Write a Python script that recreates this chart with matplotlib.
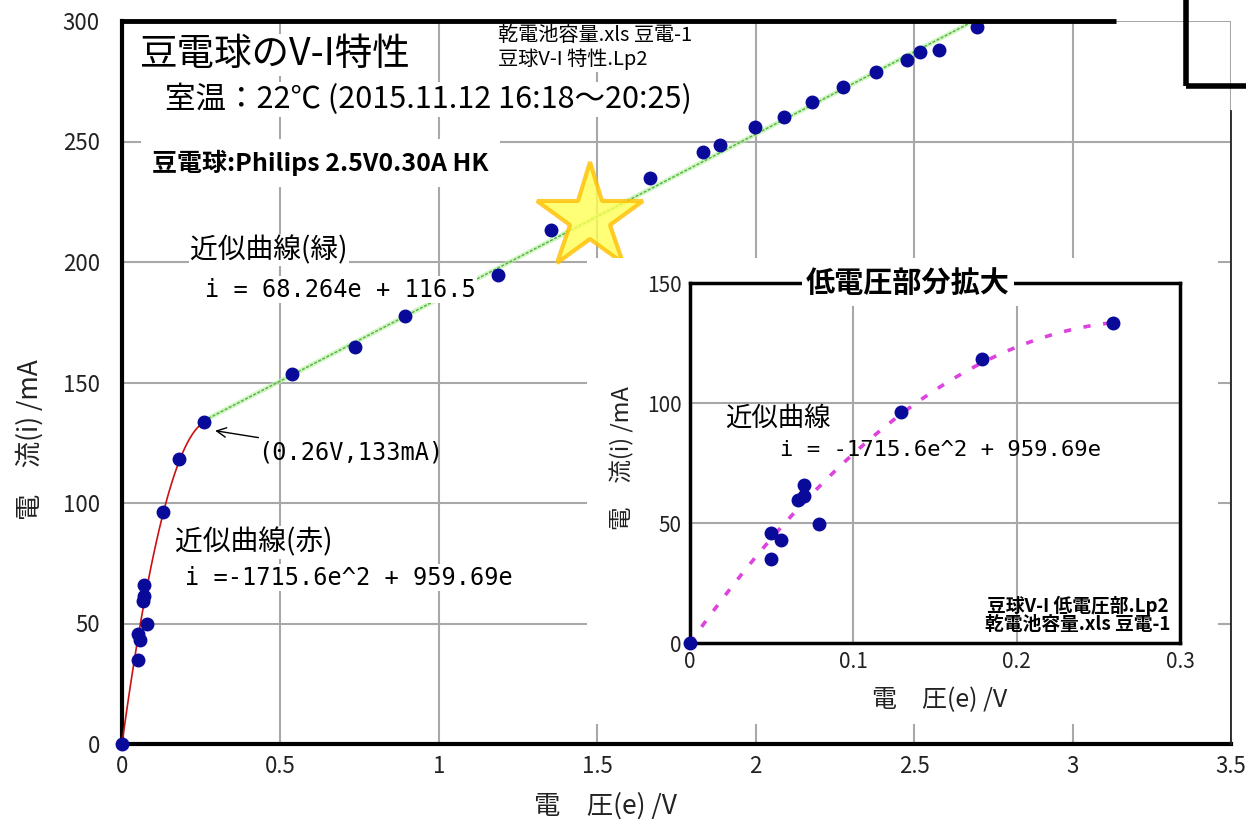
import numpy as np
import matplotlib
matplotlib.use("Agg")
import matplotlib.pyplot as plt
from matplotlib.patches import Rectangle

plt.rcParams['font.family'] = ['Noto Sans CJK JP', 'DejaVu Sans']
MONO = ['DejaVu Sans Mono', 'Noto Sans CJK JP']

# ---------------- data ----------------
voltage = [0.0, 0.0495, 0.0495, 0.0556, 0.0664, 0.0696, 0.0696, 0.079, 0.129, 0.179, 0.259,
           0.536, 0.736, 0.894, 1.188, 1.355, 1.667, 1.835, 1.886, 1.999, 2.088, 2.178,
           2.276, 2.381, 2.478, 2.518, 2.578, 2.697]
current = [0.0, 34.8, 45.8, 43.0, 59.4, 61.3, 65.8, 49.7, 96.2, 118.3, 133.5,
           153.5, 164.6, 177.5, 194.4, 213.4, 234.8, 245.8, 248.6, 256.2, 260.1, 266.3,
           272.5, 279.0, 284.0, 287.1, 288.0, 297.7]
n_low = 11  # points shown in the low-voltage inset

quad_a, quad_b = -1715.6, 959.69      # red fit  i = a e^2 + b e
lin_a, lin_b = 68.264, 116.5          # green fit i = a e + b
e_break = 0.26
e_line_end = 2.69

main_xticks = [0, 0.5, 1, 1.5, 2, 2.5, 3, 3.5]
main_xlabels = ['0', '0.5', '1', '1.5', '2', '2.5', '3', '3.5']
main_yticks = [0, 50, 100, 150, 200, 250, 300]
inset_xticks = [0, 0.1, 0.2, 0.3]
inset_xlabels = ['0', '0.1', '0.2', '0.3']
inset_yticks = [0, 50, 100, 150]
star_pos = (1.478, 218.4)

W, H = 1246, 825
fig = plt.figure(figsize=(W / 100, H / 100), dpi=100)
fig.patch.set_facecolor('white')

GRID = '#a8a8a8'
DOT = '#0a0a9a'

# ---------------- main axes ----------------
ax = fig.add_axes([122 / W, 1 - 744 / H, (1231 - 122) / W, (744 - 21) / H])
ax.set_xlim(0, 3.5)
ax.set_ylim(0, 300)
ax.set_xticks(main_xticks)
ax.set_xticklabels(main_xlabels)
ax.set_yticks(main_yticks)
ax.tick_params(axis='y', length=0, labelsize=16, labelcolor='#222222', pad=16)
ax.tick_params(axis='x', length=0, labelsize=16, labelcolor='#222222', pad=8)
ax.grid(True, color=GRID, lw=1.5)
ax.set_axisbelow(True)
for s in ['top', 'right']:
    ax.spines[s].set_visible(False)
ax.spines['left'].set_linewidth(3)
ax.spines['bottom'].set_linewidth(3)
ax.plot([0, 0.896], [1, 1], transform=ax.transAxes, color='black', lw=3.5,
        clip_on=False, solid_capstyle='butt', zorder=5)
ax.plot([1, 1], [0, 0.875], transform=ax.transAxes, color='#222222', lw=1.3,
        clip_on=False, zorder=5)

e1 = np.linspace(0, e_break, 100)
ax.plot(e1, quad_a * e1 ** 2 + quad_b * e1, color='#cc1111', lw=1.2, zorder=3)
e2 = np.linspace(e_break, e_line_end, 100)
ax.plot(e2, lin_a * e2 + lin_b, color='#b8f0a0', lw=3.5, alpha=0.6, zorder=3)
ax.plot(e2, lin_a * e2 + lin_b, color='#55b844', lw=1.1, ls=(0, (2, 1)), zorder=3)
ax.plot(voltage, current, 'o', color=DOT, ms=9, zorder=4, clip_on=False)

ax.plot([star_pos[0]], [star_pos[1]], marker='*', ms=80, mfc='#ffff55', mec='#ffbf00',
        mew=3, alpha=0.8, zorder=6)

wb = dict(facecolor='white', edgecolor='none', pad=1)
ax.text(0.057, 286, '豆電球のV-I特性', fontsize=27, va='center', ha='left', bbox=wb)
ax.text(1.187, 294, '乾電池容量.xls 豆電-1', fontsize=14.5, va='center', ha='left', bbox=wb)
ax.text(1.187, 284, '豆球V-I 特性.Lp2', fontsize=14.5, va='center', ha='left', bbox=wb)
ax.text(0.136, 267.5, '室温：22℃ (2015.11.12 16:18～20:25)', fontsize=22,
        va='center', ha='left', bbox=wb)
ax.text(0.095, 241, '豆電球:Philips 2.5V0.30A HK', fontsize=18, fontweight='bold',
        va='center', ha='left', bbox=dict(facecolor='white', edgecolor='none', pad=8))
ax.text(0.215, 205, '近似曲線(緑)', fontsize=20, va='center', ha='left', bbox=wb)
ax.text(0.262, 188.5, 'i = 68.264e + 116.5', family=MONO, fontsize=17,
        va='center', ha='left', bbox=wb)
ax.text(0.167, 83.5, '近似曲線(赤)', fontsize=20, va='center', ha='left', bbox=wb)
ax.text(0.199, 69, 'i =-1715.6e^2 + 959.69e', family=MONO, fontsize=17,
        va='center', ha='left', bbox=wb)
ax.annotate('(0.26V,133mA)', xy=(0.294, 130), xytext=(0.43, 121), family=MONO,
            fontsize=17, va='center', ha='left',
            arrowprops=dict(arrowstyle='->', color='black', lw=1.0, shrinkA=0, shrinkB=0))

fig.text(30 / W, 1 - 440 / H, '電　流(i) /mA', rotation=90, fontsize=19,
         ha='center', va='center', color='#222222')
fig.text(605 / W, 1 - 806 / H, '電　圧(e) /V', fontsize=19, ha='center', va='center',
         color='#222222')

# white area behind the inset
fig.patches.append(Rectangle((587 / W, 1 - 724 / H), 631 / W, 466 / H,
                             transform=fig.transFigure, facecolor='white',
                             edgecolor='none', zorder=2))
# partial box at top right
fig.patches.append(Rectangle((1186 / W, 1 - 86 / H), 0.1, 0.2,
                             transform=fig.transFigure, facecolor='none',
                             edgecolor='black', lw=4, zorder=2, clip_on=False))

# ---------------- inset ----------------
axin = fig.add_axes([690 / W, 1 - 643 / H, 490 / W, 360 / H], zorder=3)
axin.set_xlim(0, 0.3)
axin.set_ylim(0, 150)
axin.set_xticks(inset_xticks)
axin.set_xticklabels(inset_xlabels)
axin.set_yticks(inset_yticks)
axin.tick_params(length=0, labelsize=15, labelcolor='#222222', pad=6)
for s in axin.spines.values():
    s.set_linewidth(2.5)
for x in inset_xticks[1:-1]:
    axin.axvline(x, ymax=140 / 150, color=GRID, lw=1.5, zorder=0)
for y in inset_yticks[1:-1]:
    axin.axhline(y, color=GRID, lw=1.5, zorder=0)

e3 = np.linspace(0, e_break, 100)
axin.plot(e3, quad_a * e3 ** 2 + quad_b * e3, color='#dd44dd', lw=2.6,
          ls=(0, (2, 3.5)), zorder=3)
axin.plot(voltage[:n_low], current[:n_low], 'o', color=DOT, ms=9, zorder=4, clip_on=False)

axin.text(0.1335, 150, '低電圧部分拡大', fontsize=21, fontweight='bold', ha='center',
          va='center', bbox=dict(facecolor='white', edgecolor='none', pad=3), zorder=6)
axin.text(0.0214, 93.7, '近似曲線', fontsize=19, va='center', ha='left')
axin.text(0.055, 80.4, 'i = -1715.6e^2 + 959.69e', family=MONO, fontsize=16,
          va='center', ha='left')
axin.text(0.293, 15.4, '豆球V-I 低電圧部.Lp2', fontsize=13.5, fontweight='bold',
          va='center', ha='right')
axin.text(0.294, 7.5, '乾電池容量.xls 豆電-1', fontsize=13.5, fontweight='bold',
          va='center', ha='right')

fig.text(622 / W, 1 - 458 / H, '電　流(i) /mA', rotation=90, fontsize=17,
         ha='center', va='center', color='#222222', zorder=4)
fig.text(940 / W, 1 - 700 / H, '電　圧(e) /V', fontsize=18, ha='center', va='center',
         color='#222222', zorder=4)

fig.savefig('out.png', dpi=100, facecolor='white')
